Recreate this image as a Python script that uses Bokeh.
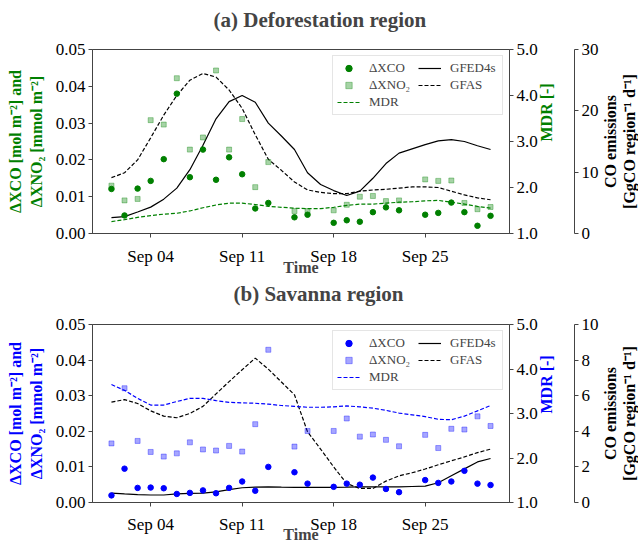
import math
import numpy as np
import pandas as pd
from bokeh.plotting import figure
from bokeh.models import (Range1d, LinearAxis, FixedTicker, DatetimeTickFormatter,
                          PrintfTickFormatter, Legend, LegendItem, Label, Title)
from bokeh.layouts import column, row
from bokeh.embed import file_html
from bokeh.resources import INLINE

nan = np.nan
dates = pd.date_range("2019-09-01", "2019-09-30", freq="D")
tick_dates = ["2019-09-04", "2019-09-11", "2019-09-18", "2019-09-25"]

# (a) Deforestation region
dxco_a = [0.0121, 0.0049, 0.0122, 0.0143, 0.0202, 0.0380, 0.0153, 0.0228, 0.0146, 0.0207,
          0.0161, 0.0068, 0.0083, nan, 0.0044, 0.0051, nan, 0.0029, 0.0036, 0.0032,
          0.0058, 0.0071, 0.0063, nan, 0.0051, 0.0056, 0.0084, 0.0058, 0.0021, 0.0048]
dxno2_a = [0.0130, 0.0090, 0.0094, 0.0308, 0.0296, 0.0422, 0.0228, 0.0261, 0.0443, 0.0228,
           0.0311, 0.0126, 0.0194, nan, 0.0061, 0.0061, nan, 0.0063, 0.0078, 0.0100,
           0.0102, 0.0088, 0.0090, nan, 0.0147, 0.0143, 0.0144, 0.0083, 0.0066, 0.0072]
mdr_a = [1.26, 1.30, 1.35, 1.39, 1.42, 1.44, 1.49, 1.56, 1.62, 1.66,
         1.66, 1.63, 1.59, 1.57, 1.55, 1.54, 1.54, 1.57, 1.61, 1.64,
         1.64, 1.66, 1.68, 1.69, 1.71, 1.72, 1.68, 1.64, 1.59, 1.55]
gfed_a = [2.6, 2.75, 3.5, 4.3, 5.6, 7.4, 10.4, 14.4, 18.7, 21.5,
          22.5, 21.4, 18.0, 15.9, 13.7, 9.9, 8.0, 7.0, 6.2, 6.9,
          9.0, 11.4, 13.1, 13.8, 14.5, 15.1, 15.3, 15.0, 14.3, 13.7]
gfas_a = [9.1, 9.9, 12.0, 15.6, 19.3, 22.5, 25.0, 26.1, 25.5, 23.4,
          20.4, 16.1, 12.1, 10.3, 8.4, 7.1, 6.7, 6.5, 6.5, 6.9,
          7.1, 7.2, 7.4, 7.6, 7.6, 7.5, 6.9, 6.3, 5.8, 5.5]

# (b) Savanna region
dxco_b = [0.0020, 0.0095, 0.0041, 0.0042, 0.0040, 0.0024, 0.0027, 0.0034, 0.0026, 0.0041,
          0.0059, 0.0033, 0.0100, nan, 0.0085, 0.0053, nan, 0.0044, 0.0053, 0.0050,
          0.0070, 0.0038, 0.0029, nan, 0.0063, 0.0055, 0.0059, 0.0089, 0.0053, 0.0049]
dxno2_b = [0.0166, 0.0321, 0.0173, 0.0142, 0.0129, 0.0138, 0.0169, 0.0149, 0.0146, 0.0159,
           0.0143, 0.0220, 0.0429, nan, 0.0157, 0.0201, nan, 0.0201, 0.0236, 0.0185,
           0.0191, 0.0176, 0.0158, nan, 0.0190, 0.0153, 0.0207, 0.0205, 0.0242, 0.0215]
mdr_b = [3.65, 3.52, 3.34, 3.19, 3.19, 3.27, 3.34, 3.34, 3.29, 3.25,
         3.24, 3.23, 3.21, 3.18, 3.16, 3.14, 3.14, 3.15, 3.17, 3.15,
         3.12, 3.07, 3.01, 2.97, 2.93, 2.87, 2.86, 2.94, 3.06, 3.18]
gfed_b = [0.53, 0.48, 0.44, 0.42, 0.42, 0.48, 0.51, 0.53, 0.60, 0.72,
          0.83, 0.86, 0.88, 0.86, 0.85, 0.85, 0.85, 0.85, 0.86, 0.88,
          0.88, 0.88, 0.88, 0.90, 0.92, 1.11, 1.50, 1.89, 2.28, 2.47]
gfas_b = [5.64, 5.78, 5.56, 5.15, 4.85, 4.76, 5.00, 5.40, 6.10, 6.79,
          7.46, 8.11, 7.49, 6.77, 6.05, 3.97, 3.00, 2.00, 1.06, 0.79,
          0.79, 1.20, 1.50, 1.67, 1.88, 2.12, 2.34, 2.56, 2.80, 3.00]

left_ticks = [0.0, 0.01, 0.02, 0.03, 0.04, 0.05]
mdr_ticks = [1.0, 2.0, 3.0, 4.0, 5.0]
co_ticks_a = [0, 10, 20, 30]
co_ticks_b = [0, 2, 4, 6, 8, 10]

FONT = "Liberation Serif, serif"
AX = "#444444"
MAIN_W = 601
LAB_W = 37


def make_panel(title, color, dxco, dxno2, mdr, gfed, gfas, co_max, co_ticks,
               height, top, bottom, title_offset, spacer_px, title_standoff,
               lab_standoff, xlab_standoff):
    x0 = dates[0] - pd.Timedelta(hours=1.45 * 24)
    x1 = dates[-1] + pd.Timedelta(hours=1.45 * 24)
    p = figure(width=MAIN_W, height=height, x_axis_type="datetime",
               x_range=Range1d(x0, x1), y_range=Range1d(0, 0.05),
               output_backend="svg", toolbar_location=None,
               min_border_left=92, min_border_right=MAIN_W - 92 - 420,
               min_border_top=top, min_border_bottom=bottom,
               background_fill_color="white", border_fill_color="white")
    p.extra_y_ranges = {"mdr": Range1d(1, 5), "co": Range1d(0, co_max)}
    p.xgrid.visible = False
    p.ygrid.visible = False
    p.outline_line_color = AX
    p.outline_line_alpha = 1.0

    # spacer (nearest the frame) then the title above it
    p.add_layout(Title(text=" ", text_font_size=f"{spacer_px}px", standoff=0), "above")
    p.add_layout(Title(text=title, text_font=FONT, text_font_size="21px",
                       text_font_style="bold", align="left", offset=title_offset,
                       standoff=title_standoff), "above")

    xa = p.xaxis[0]
    xa.ticker = FixedTicker(ticks=[pd.Timestamp(d).timestamp() * 1000 for d in tick_dates])
    xa.formatter = DatetimeTickFormatter(days="%b %d", months="%b %d", hours="%b %d")
    xa.axis_label = "Time"
    ya = p.yaxis[0]
    ya.ticker = FixedTicker(ticks=left_ticks)
    ya.formatter = PrintfTickFormatter(format="%.2f")
    ya.axis_label = "ΔXCO [mol m⁻²] and\nΔXNO₂ [mmol m⁻²]"
    ya.axis_label_text_color = color

    mdr_ax = LinearAxis(y_range_name="mdr", ticker=FixedTicker(ticks=mdr_ticks),
                        formatter=PrintfTickFormatter(format="%.1f"), axis_label="MDR [-]")
    mdr_ax.axis_label_text_color = color
    mdr_ax.axis_label_orientation = math.pi / 2
    co_ax = LinearAxis(y_range_name="co", ticker=FixedTicker(ticks=co_ticks),
                       formatter=PrintfTickFormatter(format="%d"))
    p.add_layout(mdr_ax, "right")
    p.add_layout(Title(text=" ", text_font_size="4px", standoff=1), "right")
    p.add_layout(co_ax, "right")

    for ax in [xa, ya, mdr_ax, co_ax]:
        ax.axis_line_color = AX
        ax.major_tick_line_color = AX
        ax.minor_tick_line_color = None
        ax.major_tick_out = 4
        ax.major_tick_in = 0
        ax.major_label_text_font = FONT
        ax.major_label_text_font_size = "17px"
        ax.major_label_text_color = "black"
        ax.major_label_standoff = 3
        ax.axis_label_text_font = FONT
        ax.axis_label_text_font_size = "16px"
        ax.axis_label_text_font_style = "bold"
    ya.axis_label_standoff = 8
    mdr_ax.axis_label_standoff = 6
    xa.major_label_standoff = lab_standoff
    xa.axis_label_standoff = xlab_standoff

    r_gfed = p.line(dates, gfed, y_range_name="co", line_color="black", line_width=1.2)
    r_gfas = p.line(dates, gfas, y_range_name="co", line_color="black", line_width=1.2,
                    line_dash="4 2")
    r_mdr = p.line(dates, mdr, y_range_name="mdr", line_color=color, line_width=1.2,
                   line_dash="4 2")
    r_no2 = p.scatter(dates, dxno2, marker="square", size=5, fill_color=color,
                      line_color=color, fill_alpha=0.35, line_alpha=0.35)
    r_co = p.scatter(dates, dxco, marker="circle", size=5.5, fill_color=color,
                     line_color=color)

    legend = Legend(items=[LegendItem(label="ΔXCO", renderers=[r_co]),
                           LegendItem(label="ΔXNO₂", renderers=[r_no2]),
                           LegendItem(label="MDR", renderers=[r_mdr]),
                           LegendItem(label="GFED4s", renderers=[r_gfed]),
                           LegendItem(label="GFAS", renderers=[r_gfas])],
                    location="top_right", ncols=2)
    legend.label_text_font = FONT
    legend.label_text_font_size = "13px"
    legend.glyph_width = 23
    legend.glyph_height = 16
    legend.label_height = 16
    legend.label_standoff = 9
    legend.label_width = 48
    legend.spacing = 1
    legend.padding = 4
    legend.margin = 6
    legend.border_line_color = "#cccccc"
    legend.background_fill_alpha = 0.8
    p.add_layout(legend)

    # narrow companion canvas that carries the outer right axis title
    q = figure(width=LAB_W, height=height, x_range=Range1d(0, 1), y_range=Range1d(0, 1),
               output_backend="svg", toolbar_location=None,
               x_axis_location=None, y_axis_location=None,
               min_border_left=0, min_border_right=0,
               min_border_top=top, min_border_bottom=bottom,
               background_fill_color="white", border_fill_color="white")
    q.outline_line_color = None
    q.xgrid.visible = False
    q.ygrid.visible = False
    q.add_layout(Label(x=0.5, y=0.5, text="CO emissions\n[GgCO region⁻¹ d⁻¹]",
                       angle=math.pi / 2, text_align="center", text_baseline="middle",
                       text_font=FONT, text_font_size="16px", text_font_style="bold",
                       text_line_height=1.15, text_color="black"))
    return row(p, q, spacing=0)


pa = make_panel("(a) Deforestation region", "#008000", dxco_a, dxno2_a, mdr_a, gfed_a, gfas_a,
                30, co_ticks_a, 278, 49, 40, 121, 12, 4, 9, -10)
pb = make_panel("(b) Savanna region", "#0000ff", dxco_b, dxno2_b, mdr_b, gfed_b, gfas_b,
                10, co_ticks_b, 267, 41, 37, 141, 14, 2, 8, -11)

layout = column(pa, pb, spacing=0)
open("out.html", "w").write(file_html(layout, INLINE))
